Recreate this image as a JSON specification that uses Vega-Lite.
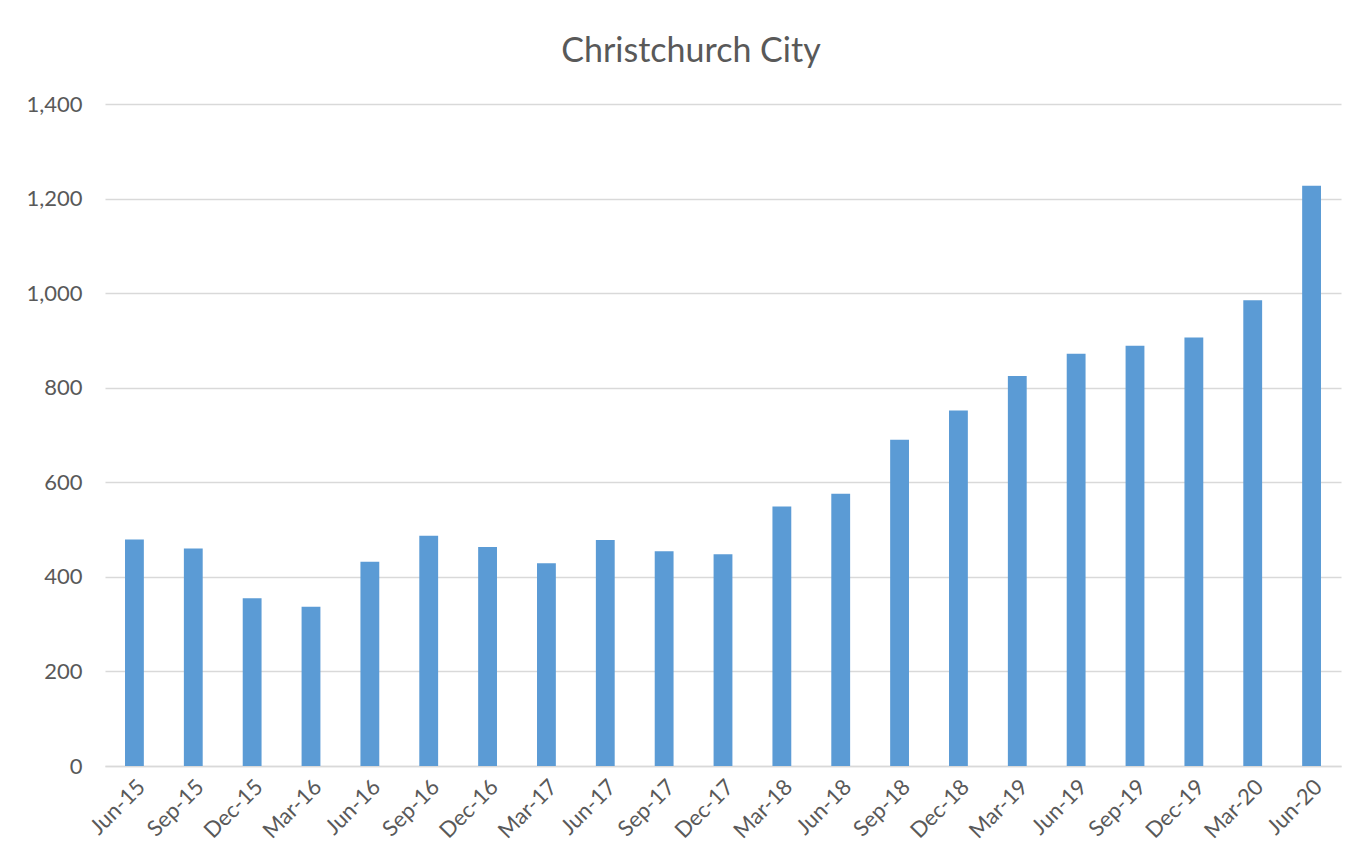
{
  "$schema": "https://vega.github.io/schema/vega-lite/v6.json",
  "width": 1352,
  "height": 865,
  "autosize": {"type": "fit", "contains": "padding"},
  "padding": {"left": 25, "top": 35, "right": 11, "bottom": 23},
  "background": "white",
  "title": {
    "text": "Christchurch City",
    "font": "Lato",
    "fontSize": 34,
    "fontWeight": "normal",
    "color": "#595959",
    "anchor": "middle",
    "offset": 24,
    "dx": -32
  },
  "data": {
    "values": [
      {"quarter": "Jun-15", "value": 479},
      {"quarter": "Sep-15", "value": 460},
      {"quarter": "Dec-15", "value": 355},
      {"quarter": "Mar-16", "value": 337},
      {"quarter": "Jun-16", "value": 432},
      {"quarter": "Sep-16", "value": 487},
      {"quarter": "Dec-16", "value": 463},
      {"quarter": "Mar-17", "value": 429},
      {"quarter": "Jun-17", "value": 478},
      {"quarter": "Sep-17", "value": 454},
      {"quarter": "Dec-17", "value": 448},
      {"quarter": "Mar-18", "value": 549},
      {"quarter": "Jun-18", "value": 576},
      {"quarter": "Sep-18", "value": 690},
      {"quarter": "Dec-18", "value": 752},
      {"quarter": "Mar-19", "value": 825},
      {"quarter": "Jun-19", "value": 872},
      {"quarter": "Sep-19", "value": 889},
      {"quarter": "Dec-19", "value": 906},
      {"quarter": "Mar-20", "value": 985},
      {"quarter": "Jun-20", "value": 1227}
    ]
  },
  "mark": {"type": "bar", "color": "#5b9bd5"},
  "encoding": {
    "x": {
      "field": "quarter",
      "type": "ordinal",
      "sort": null,
      "title": null,
      "scale": {"paddingInner": 0.68, "paddingOuter": 0.34},
      "axis": {
        "labelAngle": -45,
        "labelFont": "Lato",
        "labelFontSize": 22,
        "labelColor": "#595959",
        "ticks": false,
        "tickSize": 0,
        "domainColor": "#d9d9d9",
        "domainWidth": 1.5,
        "labelPadding": 10
      }
    },
    "y": {
      "field": "value",
      "type": "quantitative",
      "title": null,
      "scale": {"domain": [0, 1400]},
      "axis": {
        "values": [0, 200, 400, 600, 800, 1000, 1200, 1400],
        "format": ",.0f",
        "labelFont": "Lato",
        "labelFontSize": 22,
        "labelColor": "#595959",
        "ticks": false,
        "tickSize": 0,
        "domain": false,
        "gridColor": "#d9d9d9",
        "gridWidth": 1.5,
        "labelPadding": 23
      }
    }
  },
  "config": {"view": {"stroke": null}}
}
